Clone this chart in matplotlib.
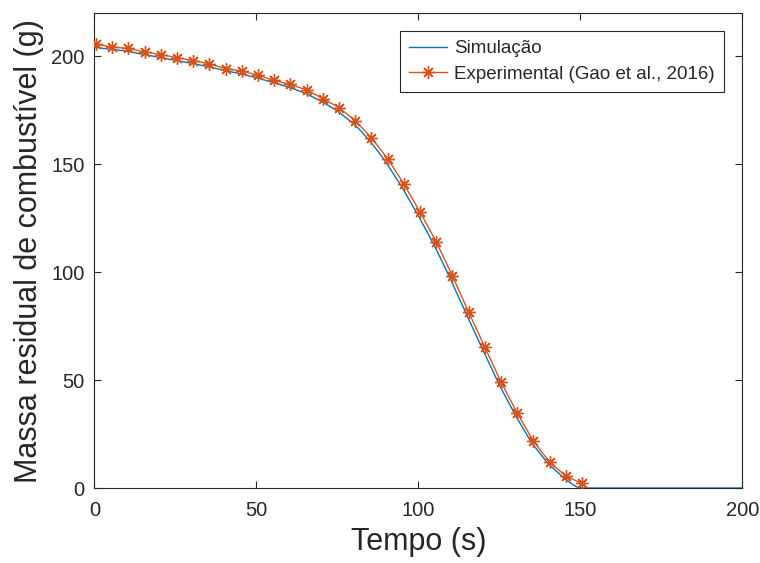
import numpy as np
import matplotlib
matplotlib.use("Agg")
import matplotlib.pyplot as plt

# Simulation data
t_sim = [0, 5, 10, 15, 20, 25, 30, 35, 40, 45, 50, 55, 60, 65, 70, 75, 80,
         82.5, 85, 87.5, 90, 95, 100, 105, 110, 115, 120, 125, 130, 135, 140,
         145, 147.5, 149.5, 160, 180, 200]
m_sim = [204.3, 203.3, 202.5, 201.0, 199.6, 198.2, 196.8, 195.3, 193.6, 192.0,
         190.2, 188.0, 185.8, 183.0, 179.3, 174.8, 168.8, 165.2, 160.8, 156.2,
         151.0, 139.3, 126.2, 112.3, 96.6, 80.0, 63.8, 47.8, 33.6, 20.9, 11.4,
         4.6, 1.8, 0.0, 0.0, 0.0, 0.0]

# Experimental data (Gao et al., 2016)
t_exp = [0.5, 5.5, 10.5, 15.5, 20.5, 25.5, 30.5, 35.5, 40.5, 45.5, 50.5, 55.5,
         60.5, 65.5, 70.5, 75.5, 80.5, 85.5, 90.5, 95.5, 100.5, 105.5, 110.5,
         115.5, 120.5, 125.5, 130.5, 135.5, 140.5, 145.5, 150.5]
m_exp = [205.6, 204.4, 203.7, 202.1, 200.9, 199.4, 198.1, 196.6, 194.4, 193.2,
         191.3, 188.9, 187.0, 184.5, 180.5, 176.3, 170.3, 162.4, 152.7, 141.0,
         128.0, 114.2, 98.4, 81.7, 65.4, 49.2, 34.8, 21.8, 12.1, 5.6, 2.1]

x_ticks = [0, 50, 100, 150, 200]
y_ticks = [0, 50, 100, 150, 200]

plt.rcParams['font.family'] = ['Liberation Sans', 'DejaVu Sans']

fig = plt.figure(figsize=(7.6, 5.63), dpi=100)
ax = fig.add_axes([0.1241, 0.1332, 0.8526, 0.8432])

blue = '#0072BD'
orange = '#D95319'
ax.plot(t_sim, m_sim, color=blue, lw=1.0, label='Simulação', zorder=3)
ax.plot(t_exp, m_exp, color=orange, lw=1.0, marker=(8, 2, 0), markersize=9,
        markeredgewidth=1.0, label='Experimental (Gao et al., 2016)', zorder=4)

ax.set_xlim(0, 200)
ax.set_ylim(0, 220)
ax.set_xticks(x_ticks)
ax.set_yticks(y_ticks)
ax.tick_params(direction='in', length=5, width=0.8, colors='#262626',
               labelsize=14.5, top=True, right=True)
ax.tick_params(axis='y', pad=7)
ax.tick_params(axis='x', pad=9)
for s in ax.spines.values():
    s.set_color('#262626')
    s.set_linewidth(0.8)

ax.set_xlabel('Tempo (s)', fontsize=22, color='#262626', va='top')
ax.xaxis.set_label_coords(0.5, -0.082)
ax.set_ylabel('Massa residual de combustível (g)', fontsize=22, color='#262626')
ax.yaxis.set_label_coords(-0.0776, 0.5)

leg = ax.legend(loc='upper right', bbox_to_anchor=(0.9722, 0.9633),
                borderaxespad=0, fontsize=13.5, fancybox=False,
                edgecolor='#262626', framealpha=1, handlelength=2.03,
                handletextpad=0.39, borderpad=0.5, labelspacing=0.45)
leg.get_frame().set_linewidth(0.8)
for txt in leg.get_texts():
    txt.set_color('#262626')

fig.savefig('out.png', dpi=100)
